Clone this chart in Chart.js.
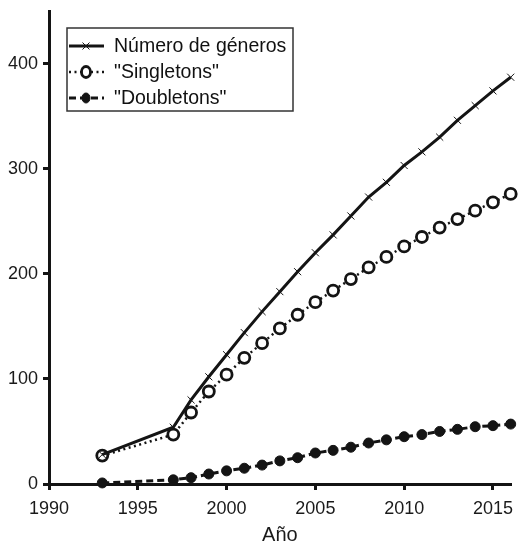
<!DOCTYPE html>
<html>
<head>
<meta charset="utf-8">
<script src="https://cdn.jsdelivr.net/npm/chart.js@4/dist/chart.umd.min.js"></script>
<style>
  html, body { margin: 0; padding: 0; background: #fff; }
  #wrap { width: 519px; height: 547px; }
</style>
</head>
<body>
<div id="wrap"><canvas id="chart" width="519" height="547"></canvas></div>
<script>
// años con datos
const years = [1993, 1997, 1998, 1999, 2000, 2001, 2002, 2003, 2004, 2005, 2006,
  2007, 2008, 2009, 2010, 2011, 2012, 2013, 2014, 2015, 2016];
const generos = [28, 54, 80, 102, 123, 144, 164, 183, 202, 220, 237,
  255, 273, 287, 303, 316, 330, 346, 360, 374, 387];
const singletons = [27, 47, 68, 88, 104, 120, 134, 148, 161, 173, 184,
  195, 206, 216, 226, 235, 244, 252, 260, 268, 276];
const doubletons = [1, 4, 6, 9.5, 12.5, 15, 18, 22, 25, 29.5, 32,
  35, 39, 42, 45, 47, 50, 52, 54.5, 55.5, 57];
const seriesNames = ['Número de géneros', '"Singletons"', '"Doubletons"'];
const yTicks = [0, 100, 200, 300, 400];
const xTicks = [1990, 1995, 2000, 2005, 2010, 2015];

const INK = '#141414';
const FONT = '"Liberation Sans", Arial, sans-serif';
const toXY = arr => arr.map((v, i) => ({ x: years[i], y: v }));

// leyenda dibujada dentro del area del grafico
const boxLegend = {
  id: 'boxLegend',
  afterDraw(chart) {
    const ctx = chart.ctx;
    const left = 67, top = 28, w = 226, h = 83;
    ctx.save();
    ctx.lineWidth = 1.5;
    ctx.strokeStyle = '#333';
    ctx.strokeRect(left, top, w, h);
    const rows = [46, 72, 98];
    chart.data.datasets.forEach((ds, i) => {
      const y = rows[i];
      ctx.strokeStyle = INK;
      ctx.lineWidth = ds.borderWidth;
      ctx.setLineDash(ds.borderDash || []);
      ctx.beginPath();
      ctx.moveTo(69, y);
      ctx.lineTo(104, y);
      ctx.stroke();
      ctx.setLineDash([]);
      const cx = 86;
      if (ds.pointStyle === 'crossRot') {
        ctx.lineWidth = 1;
        const r = ds.pointRadius;
        ctx.beginPath();
        ctx.moveTo(cx - r * 0.7, y - r * 0.7); ctx.lineTo(cx + r * 0.7, y + r * 0.7);
        ctx.moveTo(cx - r * 0.7, y + r * 0.7); ctx.lineTo(cx + r * 0.7, y - r * 0.7);
        ctx.stroke();
      } else {
        ctx.beginPath();
        ctx.ellipse(cx, y, ds.pointRadius - 1, ds.pointRadius, 0, 0, Math.PI * 2);
        ctx.fillStyle = ds.pointBackgroundColor;
        ctx.fill();
        ctx.lineWidth = ds.pointBorderWidth;
        ctx.stroke();
      }
      ctx.fillStyle = '#111';
      ctx.font = '19.5px ' + FONT;
      ctx.textBaseline = 'middle';
      ctx.fillText(ds.label, 114, y + 1);
    });
    ctx.restore();
  }
};

new Chart(document.getElementById('chart'), {
  type: 'line',
  data: {
    datasets: [
      {
        label: seriesNames[0],
        data: toXY(generos),
        borderColor: INK,
        borderWidth: 3,
        pointStyle: 'crossRot',
        pointRadius: 5,
        pointBorderWidth: 1,
        pointBorderColor: INK,
        pointBackgroundColor: INK,
        tension: 0
      },
      {
        label: seriesNames[1],
        data: toXY(singletons),
        borderColor: INK,
        borderWidth: 2.5,
        borderDash: [2, 3.5],
        pointStyle: 'circle',
        pointRadius: 5.5,
        pointBorderWidth: 2.8,
        pointBorderColor: INK,
        pointBackgroundColor: '#fff',
        tension: 0
      },
      {
        label: seriesNames[2],
        data: toXY(doubletons),
        borderColor: INK,
        borderWidth: 3,
        borderDash: [7, 4],
        pointStyle: 'circle',
        pointRadius: 5,
        pointBorderWidth: 1,
        pointBorderColor: INK,
        pointBackgroundColor: INK,
        tension: 0
      }
    ]
  },
  plugins: [boxLegend],
  options: {
    responsive: false,
    animation: false,
    clip: false,
    layout: { padding: { top: 11, right: 3, left: 0, bottom: 0 } },
    plugins: {
      legend: { display: false },
      tooltip: { enabled: false }
    },
    scales: {
      x: {
        type: 'linear',
        min: 1990,
        max: 2016,
        afterBuildTicks: s => { s.ticks = xTicks.map(v => ({ value: v })); },
        afterFit: s => { s.height = 63; s.paddingLeft = 0; s.paddingRight = 0; },
        border: { display: true, width: 3, color: INK },
        grid: { drawOnChartArea: false, tickLength: 6, lineWidth: 3, color: INK },
        ticks: {
          color: '#1a1a1a',
          padding: 8,
          maxRotation: 0,
          font: { size: 18, family: FONT },
          callback: v => String(v)
        },
        title: {
          display: true,
          text: 'Año',
          color: '#1a1a1a',
          padding: { top: 4, bottom: 0 },
          font: { size: 20, family: FONT }
        }
      },
      y: {
        min: 0,
        max: 450,
        afterBuildTicks: s => { s.ticks = yTicks.map(v => ({ value: v })); },
        afterFit: s => { s.width = 49; s.paddingTop = 0; s.paddingBottom = 0; },
        border: { display: true, width: 3, color: INK },
        grid: { drawOnChartArea: false, tickLength: 6, lineWidth: 3, color: INK },
        ticks: {
          color: '#1a1a1a',
          padding: 5,
          font: { size: 18, family: FONT },
          callback: v => String(v)
        }
      }
    }
  }
});
</script>
</body>
</html>
